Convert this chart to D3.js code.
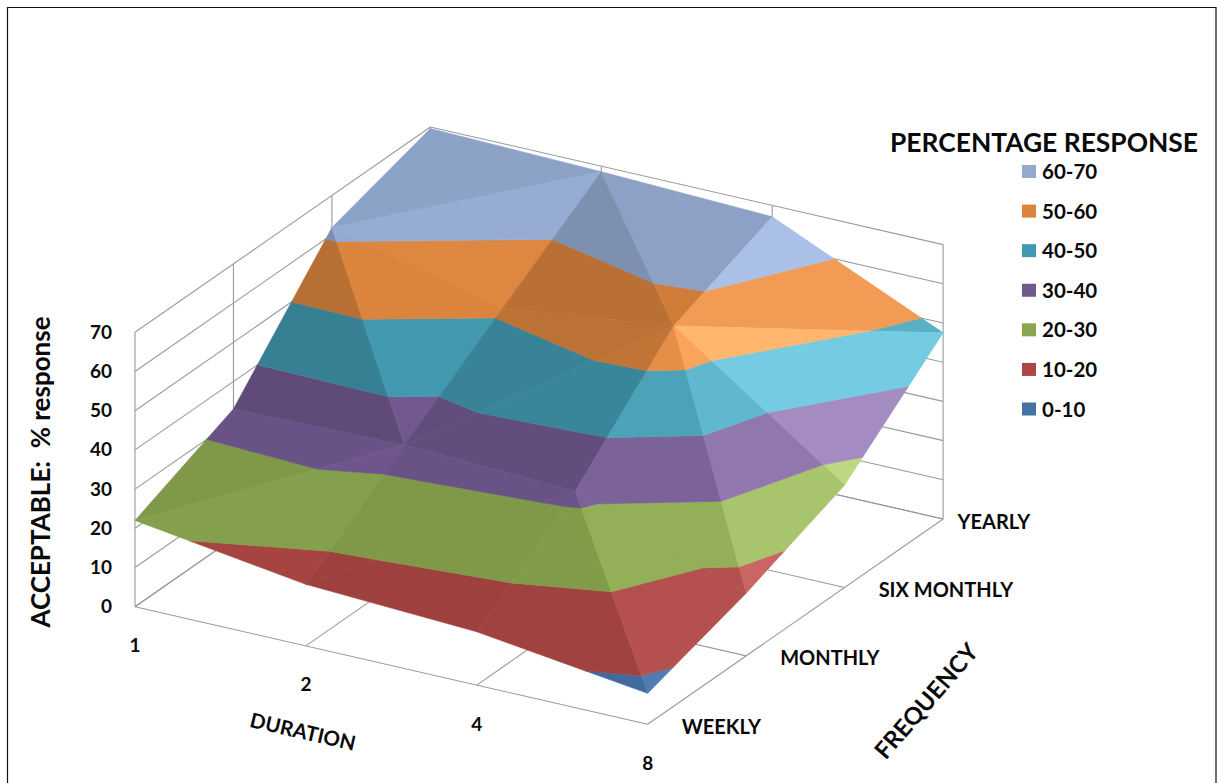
<!DOCTYPE html>
<html>
<head>
<meta charset="utf-8">
<title>Acceptable response surface</title>
<script src="https://cdn.jsdelivr.net/npm/d3@7/dist/d3.min.js"></script>
<style>
  html, body { margin: 0; padding: 0; background: #fff; }
  svg { display: block; }
  text { font-family: Lato, "Open Sans", sans-serif; fill: #0a0a0a; white-space: pre; }
</style>
</head>
<body>
<svg id="chart" width="1217" height="783"></svg>
<script>
// Response values, one row per frequency, ordered by duration
const durations = ["1", "2", "4", "8"];
const frequencies = ["WEEKLY", "MONTHLY", "SIX MONTHLY", "YEARLY"];
const weekly = [22, 15.7, 13.6, 7.9];
const monthly = [33, 33.8, 32, 16];
const sixMonthly = [61.8, 51.3, 56.7, 26.1];
const yearly = [69.6, 68.6, 67.1, 47.5];

const percentTicks = [0, 10, 20, 30, 40, 50, 60, 70];
const bandLabels = ["0-10", "10-20", "20-30", "30-40", "40-50", "50-60", "60-70"];
const bandColors = ["#4572A7", "#AA4643", "#89A54E", "#71588F", "#4198AF", "#DB843D", "#93A9CF"];

const rows = [weekly, monthly, sixMonthly, yearly];
const lastI = durations.length - 1;
const lastJ = frequencies.length - 1;

// Oblique projection: each data axis contributes a screen offset
const ORIGIN = { x: 135, y: 606.7 };
const iX = d3.scaleLinear().domain([0, lastI]).range([0, 512.7]);
const iY = d3.scaleLinear().domain([0, lastI]).range([0, 117.6]);
const jX = d3.scaleLinear().domain([0, lastJ]).range([0, 295.4]);
const jY = d3.scaleLinear().domain([0, lastJ]).range([0, -205.3]);
const zY = d3.scaleLinear().domain([0, 70]).range([0, -274.4]);

const project = ([i, j, z]) => [ORIGIN.x + iX(i) + jX(j), ORIGIN.y + iY(i) + jY(j) + zY(z)];

const svg = d3.select("#chart");
const outline = d3.line();

// Chart frame, open along the bottom edge
svg.append("path")
  .attr("d", "M7.5,783V7.5H1216V783")
  .attr("fill", "none").attr("stroke", "#111").attr("stroke-width", 1.2);

// Walls and floor
const grid = svg.append("g").attr("fill", "none").attr("stroke", "#9a9a9a").attr("stroke-width", 1.1);
const seg = (a, b) => grid.append("path").attr("d", outline([project(a), project(b)]));
percentTicks.forEach(z => {
  seg([0, 0, z], [0, lastJ, z]);
  seg([0, lastJ, z], [lastI, lastJ, z]);
});
frequencies.forEach((_, j) => {
  seg([0, j, 0], [0, j, 70]);
  seg([0, j, 0], [lastI, j, 0]);
});
durations.forEach((_, i) => {
  seg([i, lastJ, 0], [i, lastJ, 70]);
  seg([i, 0, 0], [i, lastJ, 0]);
});

// Each grid cell folds along one diagonal; every fold carries its own light level.
// Negative levels darken, positive levels lift the band colour.
const facets = [
  { v: [[0, 2], [0, 3], [1, 3]], tone: -0.04 },
  { v: [[0, 2], [1, 2], [1, 3]], tone: 0.01 },
  { v: [[1, 2], [1, 3], [2, 2]], tone: -0.15 },
  { v: [[1, 3], [2, 3], [2, 2]], tone: -0.05 },
  { v: [[2, 2], [2, 3], [3, 3]], tone: 0.09 },
  { v: [[2, 2], [3, 2], [3, 3]], tone: 0.2 },
  { v: [[0, 1], [1, 1], [0, 2]], tone: -0.16 },
  { v: [[0, 2], [1, 1], [1, 2]], tone: 0 },
  { v: [[1, 1], [1, 2], [2, 2]], tone: -0.14 },
  { v: [[1, 1], [2, 1], [2, 2]], tone: -0.125 },
  { v: [[2, 1], [3, 1], [2, 2]], tone: 0.04 },
  { v: [[2, 2], [3, 1], [3, 2]], tone: 0.12 },
  { v: [[0, 0], [0, 1], [1, 1]], tone: -0.07 },
  { v: [[0, 0], [1, 0], [1, 1]], tone: -0.03 },
  { v: [[1, 0], [2, 0], [2, 1]], tone: -0.07 },
  { v: [[1, 0], [1, 1], [2, 1]], tone: -0.07 },
  { v: [[2, 0], [3, 0], [2, 1]], tone: -0.06 },
  { v: [[2, 1], [3, 0], [3, 1]], tone: 0.04 }
];

function shade(color, tone) {
  const c = d3.rgb(color);
  const f = v => tone < 0 ? v * (1 + tone) : Math.min(255, v + tone * 255);
  return d3.rgb(f(c.r), f(c.g), f(c.b)).formatHex();
}

// Keep the part of a polygon on one side of a height level
function clipZ(poly, level, keepAbove) {
  const inside = p => keepAbove ? p[2] >= level : p[2] <= level;
  const out = [];
  poly.forEach((p, k) => {
    const q = poly[(k + 1) % poly.length];
    if (inside(p)) out.push(p);
    if (inside(p) !== inside(q)) {
      const t = (level - p[2]) / (q[2] - p[2]);
      out.push([p[0] + t * (q[0] - p[0]), p[1] + t * (q[1] - p[1]), level]);
    }
  });
  return out;
}

// Surface, painted back to front and sliced into ten-percent bands
const surface = svg.append("g");
facets.forEach(f => {
  const tri = f.v.map(([i, j]) => [i, j, rows[j][i]]);
  bandColors.forEach((color, b) => {
    const lo = percentTicks[b], hi = percentTicks[b + 1];
    const piece = clipZ(clipZ(tri, lo, true), hi, false);
    if (piece.length < 3) return;
    const fill = shade(color, f.tone);
    surface.append("path")
      .attr("d", outline(piece.map(project)) + "Z")
      .attr("fill", fill)
      .attr("stroke", fill)
      .attr("stroke-width", 0.6)
      .attr("stroke-linejoin", "round");
  });
});

// Percent axis labels
svg.append("g").selectAll("text").data(percentTicks).join("text")
  .attr("x", 112)
  .attr("y", d => project([0, 0, d])[1] - 1)
  .attr("text-anchor", "end")
  .attr("dominant-baseline", "central")
  .attr("font-size", 19).attr("font-weight", 700)
  .text(d => d);

// Duration labels sit below the front edge
svg.append("g").selectAll("text").data(durations).join("text")
  .attr("x", (d, i) => project([i, 0, 0])[0])
  .attr("y", (d, i) => project([i, 0, 0])[1] + 38)
  .attr("text-anchor", "middle")
  .attr("dominant-baseline", "central")
  .attr("font-size", 19).attr("font-weight", 700)
  .text(d => d);

// Frequency labels sit to the right of the side edge
svg.append("g").selectAll("text").data(frequencies).join("text")
  .attr("x", (d, j) => project([lastI, j, 0])[0] + (j === lastJ ? 14.5 : 34))
  .attr("y", (d, j) => project([lastI, j, 0])[1] + 1.5)
  .attr("text-anchor", "start")
  .attr("dominant-baseline", "central")
  .attr("font-size", 20).attr("font-weight", 700)
  .text(d => d);

// Axis titles
svg.append("text")
  .attr("transform", "translate(40,472) rotate(-90)")
  .attr("text-anchor", "middle").attr("dominant-baseline", "central")
  .attr("font-size", 26).attr("font-weight", 700)
  .text("ACCEPTABLE:  % response");
svg.append("text")
  .attr("transform", "translate(303,731) rotate(13)")
  .attr("text-anchor", "middle").attr("dominant-baseline", "central")
  .attr("font-size", 20.5).attr("font-weight", 700)
  .text("DURATION");
svg.append("text")
  .attr("transform", "translate(925.5,700.5) rotate(-49)")
  .attr("text-anchor", "middle").attr("dominant-baseline", "central")
  .attr("font-size", 24).attr("font-weight", 700)
  .text("FREQUENCY");

// Legend, highest band first
const legendY = d3.scalePoint()
  .domain(bandLabels.slice().reverse())
  .range([171, 408.5]);
svg.append("text")
  .attr("x", 1044).attr("y", 142)
  .attr("text-anchor", "middle").attr("dominant-baseline", "central")
  .attr("font-size", 26.4).attr("font-weight", 700)
  .text("PERCENTAGE RESPONSE");
const entries = svg.append("g").selectAll("g").data(bandLabels).join("g")
  .attr("transform", d => `translate(1022,${legendY(d)})`);
entries.append("rect")
  .attr("x", 0).attr("y", -6).attr("width", 14).attr("height", 13)
  .attr("fill", (d, k) => bandColors[k]);
entries.append("text")
  .attr("x", 20).attr("y", 0)
  .attr("dominant-baseline", "central")
  .attr("font-size", 20.5).attr("font-weight", 700)
  .text(d => d);
</script>
</body>
</html>
